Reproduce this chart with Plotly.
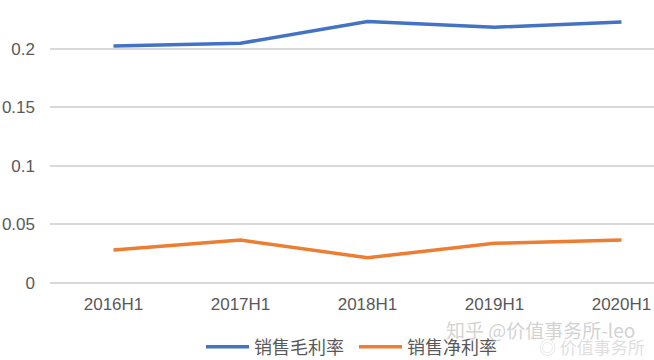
import plotly.graph_objects as go

categories = ["2016H1", "2017H1", "2018H1", "2019H1", "2020H1"]
gross_margin = [0.2026, 0.2049, 0.2234, 0.2186, 0.2231]
net_margin = [0.0280, 0.0365, 0.0214, 0.0337, 0.0365]
series_names = ["销售毛利率", "销售净利率"]
y_ticks = [0, 0.05, 0.1, 0.15, 0.2]
y_tick_text = ["0", "0.05", "0.1", "0.15", "0.2"]

FONT = "Liberation Sans, Noto Sans CJK SC, sans-serif"
CJK = "Noto Sans CJK SC, sans-serif"

PLOT_H = 284

fig = go.Figure()
fig.add_trace(go.Scatter(x=list(range(len(categories))), y=gross_margin, mode="lines",
                         name=series_names[0], line=dict(color="#4472C4", width=3.5)))
fig.add_trace(go.Scatter(x=list(range(len(categories))), y=net_margin, mode="lines",
                         name=series_names[1], line=dict(color="#ED7D31", width=3.5)))

fig.update_layout(
    width=654, height=360,
    margin=dict(l=50, r=0, t=0, b=360 - PLOT_H, autoexpand=False),
    paper_bgcolor="white", plot_bgcolor="white",
    font=dict(family=FONT, size=17, color="#595959"),
    showlegend=True,
    legend=dict(orientation="h", x=(354 - 50) / 604, xanchor="center", y=-(347 - PLOT_H) / PLOT_H,
                yanchor="middle", font=dict(family=CJK, size=18, color="#595959"),
                itemwidth=43, entrywidth=95, bgcolor="rgba(0,0,0,0)"),
    xaxis=dict(range=[-0.5, 4.256], tickmode="array", tickvals=list(range(len(categories))),
               ticktext=categories, showgrid=False, zeroline=False, showline=False,
               automargin=False, ticks="", ticklabelstandoff=8,
               tickfont=dict(size=17, color="#595959")),
    yaxis=dict(range=[-0.0011, 0.2419], tickmode="array", tickvals=y_ticks, ticktext=y_tick_text,
               showgrid=True, gridcolor="#D9D9D9", gridwidth=1.5, zeroline=False,
               showline=False, automargin=False, ticks="", ticklabelstandoff=14,
               tickfont=dict(size=17, color="#595959")),
)

fig.add_annotation(text="知乎 @价值事务所-leo", xref="paper", yref="paper",
                   x=(540 - 50) / 604, y=-(329 - PLOT_H) / PLOT_H, xanchor="center", yanchor="middle",
                   showarrow=False, font=dict(family=CJK, size=19, color="rgba(190,190,190,0.7)"))
fig.add_annotation(text="◎ 价值事务所", xref="paper", yref="paper",
                   x=(592 - 50) / 604, y=-(346 - PLOT_H) / PLOT_H, xanchor="center", yanchor="middle",
                   showarrow=False, font=dict(family=CJK, size=17, color="rgba(200,200,200,0.6)"))

fig.write_html("out.html", config={"displayModeBar": False},
               post_script="document.body.style.margin='0';document.body.style.padding='0';")
